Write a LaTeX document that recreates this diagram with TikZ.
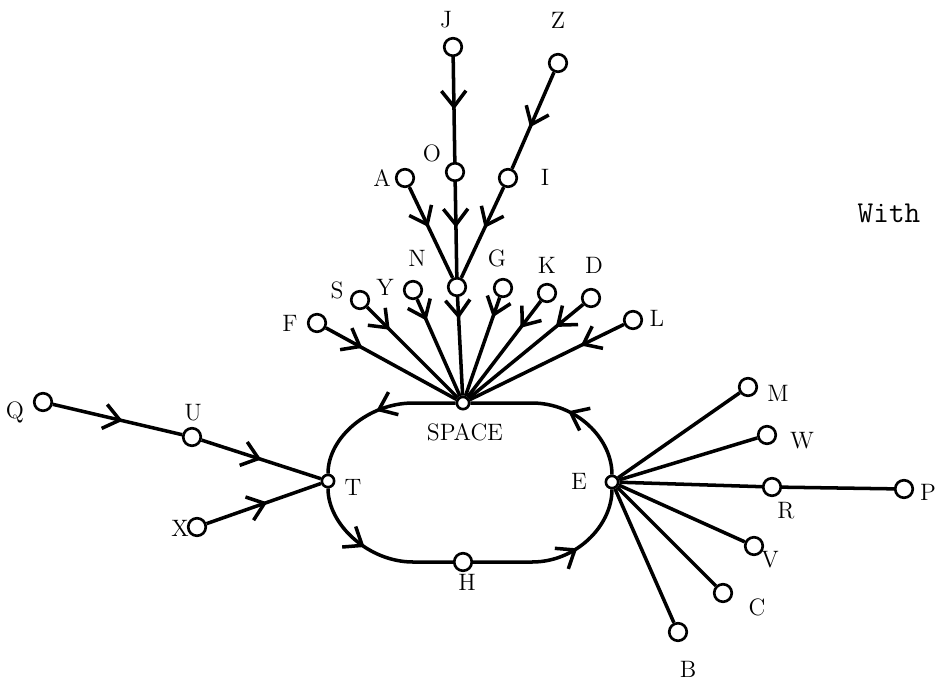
\documentclass[tikz,border=0pt]{standalone}
\usepackage{tikz}
\usetikzlibrary{arrows.meta,decorations.markings}
\tikzset{>={Straight Barb[length=9pt,width=14pt]}}

\begin{document}
\begin{tikzpicture}[x=0.02cm,y=-0.02cm,
    stn/.style={circle,draw,line width=1.5pt,fill=white,inner sep=0pt,minimum size=10pt},
    knot/.style={stn,minimum size=7pt},
    tag/.style={font=\fontsize{13.5pt}{16pt}\selectfont},
    wire/.style={line width=2pt},
    flow/.style={wire,postaction={decorate},
        decoration={markings,mark=at position #1 with {\arrow{>}}}},
    flow/.default=0.5]
    \useasboundingbox (0,0) rectangle (938,681);

    % Upper tree
    \node[stn] (J) at (453,47) {};
    \node[stn] (Z) at (558,63) {};
    \node[stn] (O) at (455,172) {};
    \node[stn] (A) at (405,178) {};
    \node[stn] (I) at (508,178) {};
    \node[stn] (hub) at (457,287) {};
    \node[stn] (F) at (317,323) {};
    \node[stn] (S) at (360,300) {};
    \node[stn] (N) at (413,290) {};
    \node[stn] (G) at (503,288) {};
    \node[stn] (K) at (547,293) {};
    \node[stn] (D) at (591,298) {};
    \node[stn] (L) at (633,320) {};

    % Loop
    \node[knot] (space) at (463,403) {};
    \node[knot] (T) at (328,481) {};
    \node[knot] (E) at (612,482) {};
    \node[stn] (H) at (463,562) {};

    % Left branch
    \node[stn] (Q) at (43,402) {};
    \node[stn] (U) at (192,437) {};
    \node[stn] (X) at (197,527) {};

    % Right fan
    \node[stn] (M) at (748,387) {};
    \node[stn] (W) at (767,435) {};
    \node[stn] (R) at (772,487) {};
    \node[stn] (P) at (904,489) {};
    \node[stn] (V) at (754,546) {};
    \node[stn] (C) at (723,593) {};
    \node[stn] (B) at (678,632) {};

    % Labels
    \node[tag] (J-lab) at (446,20) {J};
    \node[tag] (Z-lab) at (558,20) {Z};
    \node[tag] (O-lab) at (432,153) {O};
    \node[tag] (A-lab) at (382,178) {A};
    \node[tag] (I-lab) at (545,177) {I};
    \node[tag] (N-lab) at (417,258) {N};
    \node[tag] (G-lab) at (497,258) {G};
    \node[tag] (K-lab) at (547,265) {K};
    \node[tag] (D-lab) at (594,265) {D};
    \node[tag] (L-lab) at (657,318) {L};
    \node[tag] (S-lab) at (337,290) {S};
    \node[tag] (Y-lab) at (385,287) {Y};
    \node[tag] (F-lab) at (290,323) {F};
    \node[tag] (space-lab) at (465,432) {SPACE};
    \node[tag] (Q-lab) at (15,412) {Q};
    \node[tag] (U-lab) at (193,413) {U};
    \node[tag] (T-lab) at (353,487) {T};
    \node[tag] (X-lab) at (180,528) {X};
    \node[tag] (E-lab) at (579,481) {E};
    \node[tag] (H-lab) at (467,582) {H};
    \node[tag] (M-lab) at (778,393) {M};
    \node[tag] (W-lab) at (802,441) {W};
    \node[tag] (R-lab) at (786,511) {R};
    \node[tag] (P-lab) at (928,492) {P};
    \node[tag] (V-lab) at (770,560) {V};
    \node[tag] (C-lab) at (757,607) {C};
    \node[tag] (B-lab) at (688,669) {B};
    \node[font=\LARGE\ttfamily] (with) at (889,213) {With};

    % Upper tree edges
    \draw[flow=0.5] (J) -- (O);
    \draw[flow=0.57] (Z) -- (I);
    \draw[flow=0.44] (A) -- (hub);
    \draw[flow=0.48] (O) -- (hub);
    \draw[flow=0.45] (I) -- (hub);
    \draw[flow=0.28] (F) -- (space);
    \draw[flow=0.25] (S) -- (space);
    \draw[flow=0.22] (N) -- (space);
    \draw[flow=0.22] (hub) -- (space);
    \draw[flow=0.2] (G) -- (space);
    \draw[flow=0.28] (K) -- (space);
    \draw[flow=0.24] (D) -- (space);
    \draw[flow=0.28] (L) -- (space);

    % Loop edges: straight runs with round ends
    \draw[flow=0.49] (space) -- (413,403) .. controls (369,403) and (328,437) .. (T);
    \draw[flow=0.44] (T) .. controls (328,525) and (369,562) .. (413,562) -- (H);
    \draw[flow=0.6] (H) -- (532,562) .. controls (576,562) and (612,526) .. (E);
    \draw[flow=0.45] (E) .. controls (612,438) and (576,403) .. (532,403) -- (space);

    % Left branch edges
    \draw[flow=0.54] (Q) -- (U);
    \draw[flow=0.5] (U) -- (T);
    \draw[flow=0.53] (X) -- (T);

    % Right fan edges
    \draw[wire] (E) -- (M);
    \draw[wire] (E) -- (W);
    \draw[wire] (E) -- (R);
    \draw[wire] (R) -- (P);
    \draw[wire] (E) -- (V);
    \draw[wire] (E) -- (C);
    \draw[wire] (E) -- (B);
\end{tikzpicture}
\end{document}
